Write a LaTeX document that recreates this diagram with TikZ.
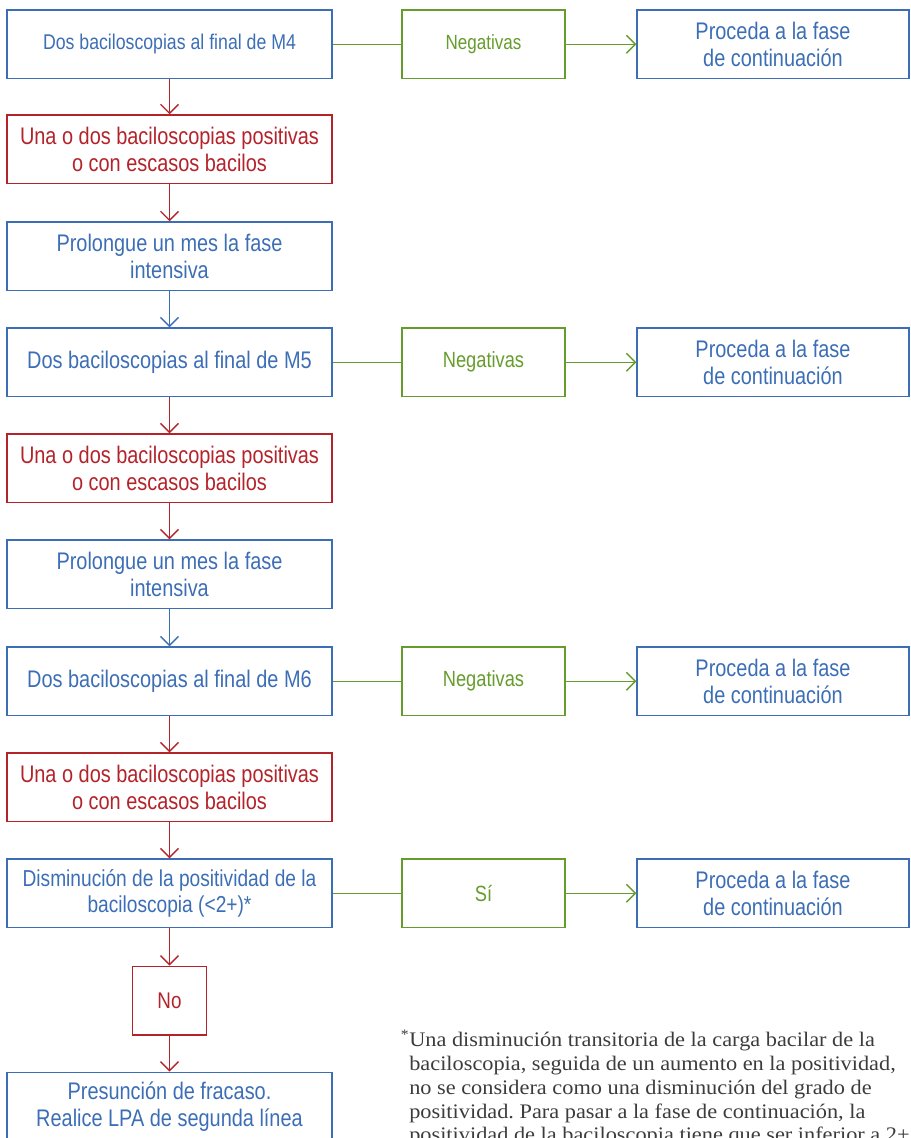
\documentclass[tikz,border=0pt]{standalone}
\usepackage{fontspec}
\usetikzlibrary{arrows.meta}
\newfontfamily\condfont[FakeStretch=0.83]{Liberation Sans}
\newfontfamily\notefont[FakeStretch=1.08]{Liberation Serif}
\definecolor{cblue}{RGB}{60,110,182}
\definecolor{cred}{RGB}{180,35,42}
\definecolor{cgreen}{RGB}{102,156,44}
\definecolor{cgray}{RGB}{60,60,60}
\begin{document}
\begin{tikzpicture}[x=0.75pt,y=-0.75pt,
  box/.style={draw, line width=1.1pt, inner sep=0pt, align=center,
    font=\condfont\fontsize{18}{20}\selectfont},
  bluebox/.style={box, draw=cblue, text=cblue},
  redbox/.style={box, draw=cred, text=cred},
  greenbox/.style={box, draw=cgreen, text=cgreen, minimum width=122.25pt, minimum height=51.4pt,
    font=\condfont\fontsize{16.5}{18}\selectfont},
  leftbox/.style={minimum width=243.75pt, minimum height=51.4pt},
  rightbox/.style={minimum width=204pt, minimum height=51.4pt},
  tip/.style={-{Straight Barb[length=6.75pt,width=13.5pt]}},
  conn/.style={line width=1pt},
  bluearr/.style={conn, tip, draw=cblue},
  redarr/.style={conn, tip, draw=cred},
  greenline/.style={conn, draw=cgreen},
  greenarr/.style={conn, tip, draw=cgreen}
]
\useasboundingbox (0,0) rectangle (910,1138);
\clip (0,0) rectangle (910,1138);

% left column
\node[bluebox,leftbox,font=\condfont\fontsize{16}{18}\selectfont] (b1) at (169.5,44.25) {Dos baciloscopias al final de M4};
\node[redbox,leftbox] (b2) at (169.5,149.25) {Una o dos baciloscopias positivas\\o con escasos bacilos};
\node[bluebox,leftbox] (b3) at (169.5,256.25) {Prolongue un mes la fase\\intensiva};
\node[bluebox,leftbox] (b4) at (169.5,362.25) {Dos baciloscopias al final de M5};
\node[redbox,leftbox] (b5) at (169.5,468.25) {Una o dos baciloscopias positivas\\o con escasos bacilos};
\node[bluebox,leftbox] (b6) at (169.5,574.25) {Prolongue un mes la fase\\intensiva};
\node[bluebox,leftbox] (b7) at (169.5,681.25) {Dos baciloscopias al final de M6};
\node[redbox,leftbox] (b8) at (169.5,787.25) {Una o dos baciloscopias positivas\\o con escasos bacilos};
\node[bluebox,leftbox,font=\condfont\fontsize{17.3}{20}\selectfont] (b9) at (169.5,893.25) {Disminución de la positividad de la\\baciloscopia (<2+)*};
\node[redbox,minimum width=55.5pt,minimum height=51.4pt,font=\condfont\fontsize{17}{20}\selectfont] (no) at (169.5,1000.5) {No};
\node[bluebox,leftbox] (b10) at (169.5,1106.5) {Presunción de fracaso.\\Realice LPA de segunda línea};

% green column
\node[greenbox,font=\condfont\fontsize{15.4}{18}\selectfont] (g1) at (483.5,44.25) {Negativas};
\node[greenbox] (g2) at (483.5,362.25) {Negativas};
\node[greenbox] (g3) at (483.5,681.25) {Negativas};
\node[greenbox] (g4) at (483.5,893.25) {Sí};

% right column
\node[bluebox,rightbox] (p1) at (773,44.25) {Proceda a la fase\\de continuación};
\node[bluebox,rightbox] (p2) at (773,362.25) {Proceda a la fase\\de continuación};
\node[bluebox,rightbox] (p3) at (773,681.25) {Proceda a la fase\\de continuación};
\node[bluebox,rightbox] (p4) at (773,893.25) {Proceda a la fase\\de continuación};

% vertical connectors
\draw[redarr] (b1.south) -- (b2.north);
\draw[redarr] (b2.south) -- (b3.north);
\draw[bluearr] (b3.south) -- (b4.north);
\draw[redarr] (b4.south) -- (b5.north);
\draw[redarr] (b5.south) -- (b6.north);
\draw[bluearr] (b6.south) -- (b7.north);
\draw[redarr] (b7.south) -- (b8.north);
\draw[redarr] (b8.south) -- (b9.north);
\draw[redarr] (b9.south) -- (no.north);
\draw[redarr] (no.south) -- (b10.north);

% horizontal connectors
\draw[greenline] (b1.east) -- (g1.west);
\draw[greenarr] (g1.east) -- (p1.west);
\draw[greenline] (b4.east) -- (g2.west);
\draw[greenarr] (g2.east) -- (p2.west);
\draw[greenline] (b7.east) -- (g3.west);
\draw[greenarr] (g3.east) -- (p3.west);
\draw[greenline] (b9.east) -- (g4.west);
\draw[greenarr] (g4.east) -- (p4.west);

% footnote
\node[anchor=base west, align=left, inner sep=0pt, text=cgray,
  font=\notefont\fontsize{15.5}{17.8}\selectfont\frenchspacing] (note) at (409,1141.8)
  {\llap{\textsuperscript{*}}Una disminución transitoria de la carga bacilar de la\\
   baciloscopia, seguida de un aumento en la positividad,\\
   no se considera como una disminución del grado de\\
   positividad. Para pasar a la fase de continuación, la\\
   positividad de la baciloscopia tiene que ser inferior a 2+};
\end{tikzpicture}
\end{document}
